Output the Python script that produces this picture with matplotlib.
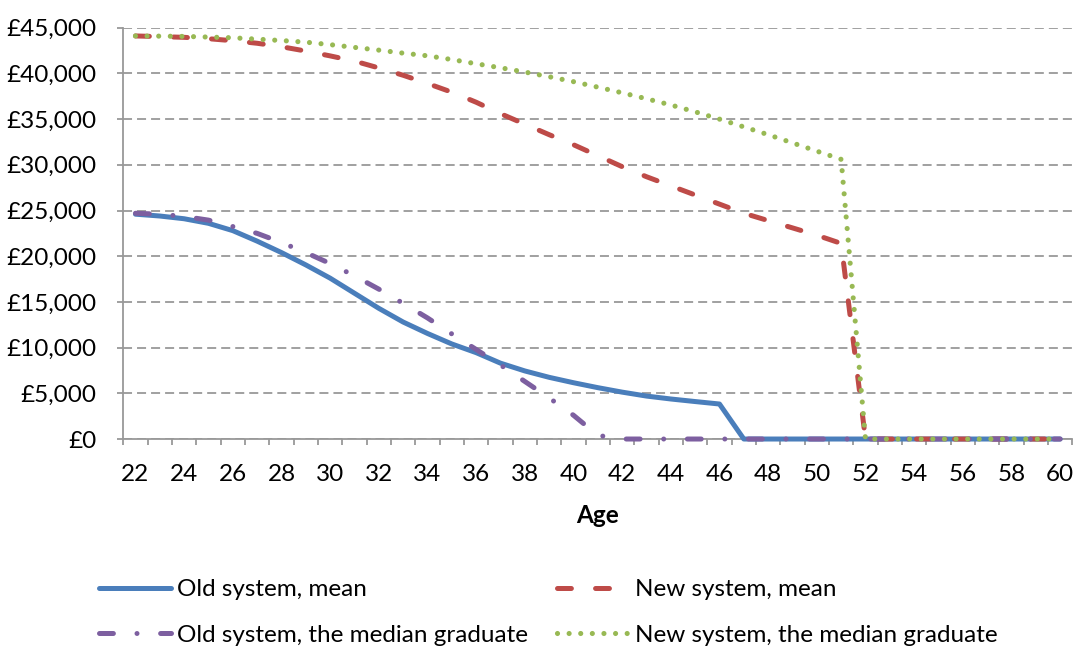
import matplotlib
matplotlib.use("Agg")
import matplotlib.pyplot as plt
from matplotlib.ticker import FuncFormatter
import numpy as np

plt.rcParams['font.family'] = ['Lato', 'DejaVu Sans']
plt.rcParams['lines.scale_dashes'] = False

# ages on the x axis (one category per year)
ages = [22, 23, 24, 25, 26, 27, 28, 29, 30, 31, 32, 33, 34, 35, 36, 37, 38, 39, 40,
        41, 42, 43, 44, 45, 46, 47, 48, 49, 50, 51, 52, 53, 54, 55, 56, 57, 58, 59, 60]

old_mean = [24600, 24400, 24100, 23600, 22800, 21650, 20400, 19050, 17600, 15950,
            14300, 12800, 11550, 10400, 9450, 8300, 7450, 6750, 6160, 5620,
            5130, 4700, 4380, 4100, 3830, 0, 0, 0, 0, 0,
            0, 0, 0, 0, 0, 0, 0, 0, 0]
new_mean = [44100, 44030, 43950, 43800, 43580, 43300, 42920, 42450, 41920, 41350,
            40600, 39800, 38900, 37950, 36850, 35600, 34450, 33300, 32200, 31000,
            29800, 28700, 27700, 26700, 25700, 24700, 23900, 23100, 22300, 21400,
            0, 0, 0, 0, 0, 0, 0, 0, 0]
old_median = [24700, 24600, 24350, 23950, 23250, 22500, 21500, 20400, 19200, 17850,
              16400, 14850, 13250, 11500, 9800, 8100, 6300, 4500, 2600, 400,
              0, 0, 0, 0, 0, 0, 0, 0, 0, 0,
              0, 0, 0, 0, 0, 0, 0, 0, 0]
new_median = [44100, 44080, 44050, 43980, 43900, 43750, 43600, 43420, 43150, 42850,
              42550, 42220, 41930, 41520, 41060, 40620, 40150, 39640, 39100, 38500,
              37880, 37230, 36550, 35800, 35000, 34150, 33300, 32400, 31500, 30600,
              0, 0, 0, 0, 0, 0, 0, 0, 0]

labels = ["Old system, mean", "New system, mean",
          "Old system, the median graduate", "New system, the median graduate"]

blue = '#4A7EBB'
red = '#BE4B48'
purple = '#7D5FA0'
green = '#98B954'
grey = '#999999'
fs = 17.5

fig = plt.figure(figsize=(10.75, 6.48), dpi=100)
ax = fig.add_axes([0.1147, 0.3225, 0.8828, 0.6347])

lw = 3.6
l1, = ax.plot(ages, old_mean, color=blue, lw=lw, solid_capstyle='round',
              solid_joinstyle='round', clip_on=False)
l2, = ax.plot(ages, new_mean, color=red, lw=lw, linestyle=(0, (10, 17.4)),
              dash_capstyle='round', dash_joinstyle='round', clip_on=False)
l3, = ax.plot(ages, old_median, color=purple, lw=lw,
              linestyle=(0, (10, 17, 0.01, 17)), dash_capstyle='round',
              dash_joinstyle='round', clip_on=False)
l4, = ax.plot(ages, new_median, color=green, lw=3.7, linestyle=(0, (0.01, 8.35)),
              dash_capstyle='round', clip_on=False)

ax.set_xlim(21.5, 60.5)
ax.set_ylim(0, 45000)

# grid
ax.set_axisbelow(True)
ax.yaxis.grid(True, color=grey, lw=1.3, linestyle=(0, (6.5, 3.6)))

for s in ['top', 'right']:
    ax.spines[s].set_visible(False)
for s in ['left', 'bottom']:
    ax.spines[s].set_color(grey)
    ax.spines[s].set_linewidth(1.3)
    ax.spines[s].set_zorder(0.5)

ax.set_yticks(range(0, 45001, 5000))
ax.yaxis.set_major_formatter(FuncFormatter(lambda v, p: '£{:,.0f}'.format(v)))
ax.tick_params(axis='y', length=4.5, width=1.3, color=grey, labelsize=fs, pad=15,
               labelcolor='black')

ax.set_xticks(ages[::2])
ax.set_xticks(np.arange(21.5, 61, 1), minor=True)
ax.tick_params(axis='x', which='major', length=0, labelsize=fs, pad=18)
ax.tick_params(axis='x', which='minor', length=4.5, width=1.3, color=grey)

ax.set_xlabel("Age", fontsize=fs, fontweight='bold', labelpad=14)

# legend in two columns, placed like the original
leg_kw = dict(frameon=False, fontsize=fs, handlelength=2.96, handletextpad=0.25,
              labelspacing=1.0, borderpad=0, borderaxespad=0, loc='center left')
leg1 = fig.legend([l1, l3], [labels[0], labels[2]],
                  bbox_to_anchor=(99 / 1075, 1 - 612.5 / 648), **leg_kw)
leg2 = fig.legend([l2, l4], [labels[1], labels[3]],
                  bbox_to_anchor=(557 / 1075, 1 - 612.5 / 648), **leg_kw)

fig.savefig("out.png", dpi=100)
